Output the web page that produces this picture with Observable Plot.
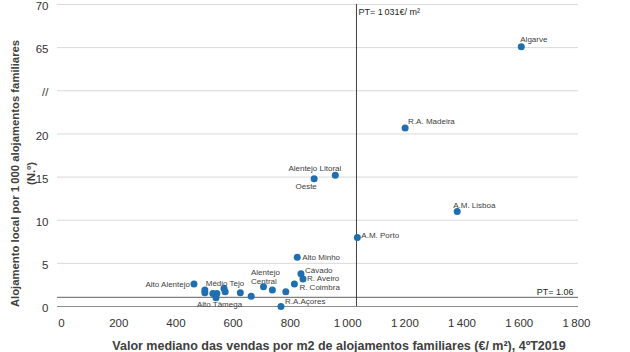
<!DOCTYPE html>
<html>
<head>
<meta charset="utf-8">
<script src="https://cdn.jsdelivr.net/npm/d3@7"></script>
<script src="https://cdn.jsdelivr.net/npm/@observablehq/plot@0.6"></script>
<style>
  html, body { margin: 0; padding: 0; background: #ffffff; }
  #chart { width: 630px; height: 352px; }
</style>
</head>
<body>
<div id="chart"></div>
<script>
// ---------- data ----------
const regions = ["Algarve", "R.A. Madeira", "Alentejo Litoral", "Oeste", "A.M. Lisboa", "A.M. Porto",
  "Alto Minho", "Cávado", "R. Aveiro", "R. Coimbra", "Alto Alentejo", "Médio Tejo", "",
  "Alentejo\nCentral", "", "", "", "", "", "", "", "", "Alto Tâmega", "R.A.Açores"];
const price = [1607, 1201, 957, 883, 1383, 1034, 824, 837, 844, 814, 463, 568, 572,
  706, 737, 784, 663, 625, 501, 501, 529, 543, 540, 767];
const density = [65.1, 20.7, 15.2, 14.8, 11.0, 8.0, 5.7, 3.8, 3.2, 2.6, 2.6, 2.1, 1.7,
  2.3, 1.9, 1.7, 1.2, 1.6, 1.9, 1.6, 1.5, 1.5, 1.0, 0.0];
const ptPrice = 1031;
const ptDensity = 1.06;
const ptPriceLabel = "PT= 1\u2009031€/ m²";
const ptDensityLabel = "PT= 1.06";
const xTicks = [0, 200, 400, 600, 800, 1000, 1200, 1400, 1600, 1800];
const xTickLabels = ["0", "200", "400", "600", "800", "1\u2009000", "1\u2009200", "1\u2009400", "1\u2009600", "1\u2009800"];
const yTicks = [0, 5, 10, 15, 20, 25, 30, 35];          // positions on the broken axis
const yTickLabels = ["0", "5", "10", "15", "20", "//", "65", "70"];
const xTitle = "Valor mediano das vendas por m2 de alojamentos familiares (€/ m²), 4ºT2019";
const yTitle = "Alojamento local por 1\u2009000 alojamentos familiares\n(N.º)";

// broken y axis: values above the break (60+) are shifted down by 35
const brk = v => (v >= 60 ? v - 35 : v);

const points = regions.map((name, i) => ({ name, price: price[i], density: density[i] }));

// label placement (style, not data)
const place = {
  "Algarve": { a: "start", dx: -1, dy: -7 },
  "R.A. Madeira": { a: "start", dx: 3, dy: -7 },
  "Alentejo Litoral": { a: "end", dx: 6, dy: -7 },
  "Oeste": { a: "middle", dx: -8, dy: 7 },
  "A.M. Lisboa": { a: "start", dx: -4, dy: -6 },
  "A.M. Porto": { a: "start", dx: 4, dy: -2 },
  "Alto Minho": { a: "start", dx: 5, dy: 0 },
  "Cávado": { a: "start", dx: 4, dy: -3.8 },
  "R. Aveiro": { a: "start", dx: 4, dy: -0.7 },
  "R. Coimbra": { a: "start", dx: 5, dy: 3.2 },
  "Alto Alentejo": { a: "end", dx: -4, dy: 0 },
  "Médio Tejo": { a: "middle", dx: 1, dy: -5 },
  "Alentejo\nCentral": { a: "start", dx: -12.5, dy: -10 },
  "Alto Tâmega": { a: "middle", dx: 3.5, dy: 6 },
  "R.A.Açores": { a: "start", dx: 4, dy: -5 }
};

const labelMarks = Object.entries(place).map(([name, p]) =>
  Plot.text(points.filter(d => d.name === name), {
    x: "price", y: d => brk(d.density), text: "name",
    textAnchor: p.a, dx: p.dx, dy: p.dy, fontSize: 8, lineHeight: 1.05,
    fill: "#404040"
  })
);

const chart = Plot.plot({
  width: 630,
  height: 352,
  marginLeft: 61,
  marginRight: 54,
  marginTop: 4,
  marginBottom: 46,
  style: { fontFamily: "'Liberation Sans', Arial, sans-serif", background: "#ffffff", color: "#404040" },
  x: { domain: [0, 1800] },
  y: { domain: [0, 35] },
  marks: [
    Plot.ruleY(yTicks.filter(t => t > 0), { stroke: "#d9d9d9", strokeWidth: 1, insetLeft: -4, insetRight: -2 }),
    Plot.ruleY([0], { stroke: "#8c8c8c", strokeWidth: 1, insetLeft: -4, insetRight: -2 }),
    Plot.ruleY([ptDensity], { stroke: "#7f7f7f", strokeWidth: 1.2, insetLeft: -4, insetRight: -2 }),
    Plot.ruleX([ptPrice], { stroke: "#404040", strokeWidth: 1 }),
    Plot.axisX({ ticks: xTicks, tickSize: 0, tickPadding: 12.5, fontSize: 11.5, label: null,
      tickFormat: d => xTickLabels[xTicks.indexOf(d)], fill: "#333333" }),
    Plot.axisY({ ticks: yTicks, tickSize: 0, tickPadding: 13, fontSize: 11.5, label: null, dy: 2,
      tickFormat: d => yTickLabels[yTicks.indexOf(d)], fill: "#333333" }),
    Plot.dot(points, { x: "price", y: d => brk(d.density), r: 3.5, fill: "#1f6eb0", stroke: "none" }),
    ...labelMarks,
    Plot.text([ptPriceLabel], { x: ptPrice, frameAnchor: "top", text: d => d, textAnchor: "start",
      dx: 2, dy: 4, fontSize: 9, fill: "#262626" }),
    Plot.text([ptDensityLabel], { x: 1800, y: ptDensity, text: d => d, textAnchor: "end",
      dx: -3, dy: -5.5, fontSize: 9, fill: "#262626" }),
    Plot.text([xTitle], { frameAnchor: "bottom", text: d => d, textAnchor: "middle", lineAnchor: "middle",
      dx: 20, dy: 39.5, fontSize: 12.5, fontWeight: "bold", fill: "#404040" }),
    Plot.text([yTitle], { frameAnchor: "left", text: d => d, rotate: -90, textAnchor: "middle", lineAnchor: "middle",
      dx: -39.5, dy: 18, fontSize: 11.3, lineHeight: 1.42, fontWeight: "bold", fill: "#404040" })
  ]
});
document.getElementById("chart").appendChild(chart);
</script>
</body>
</html>
